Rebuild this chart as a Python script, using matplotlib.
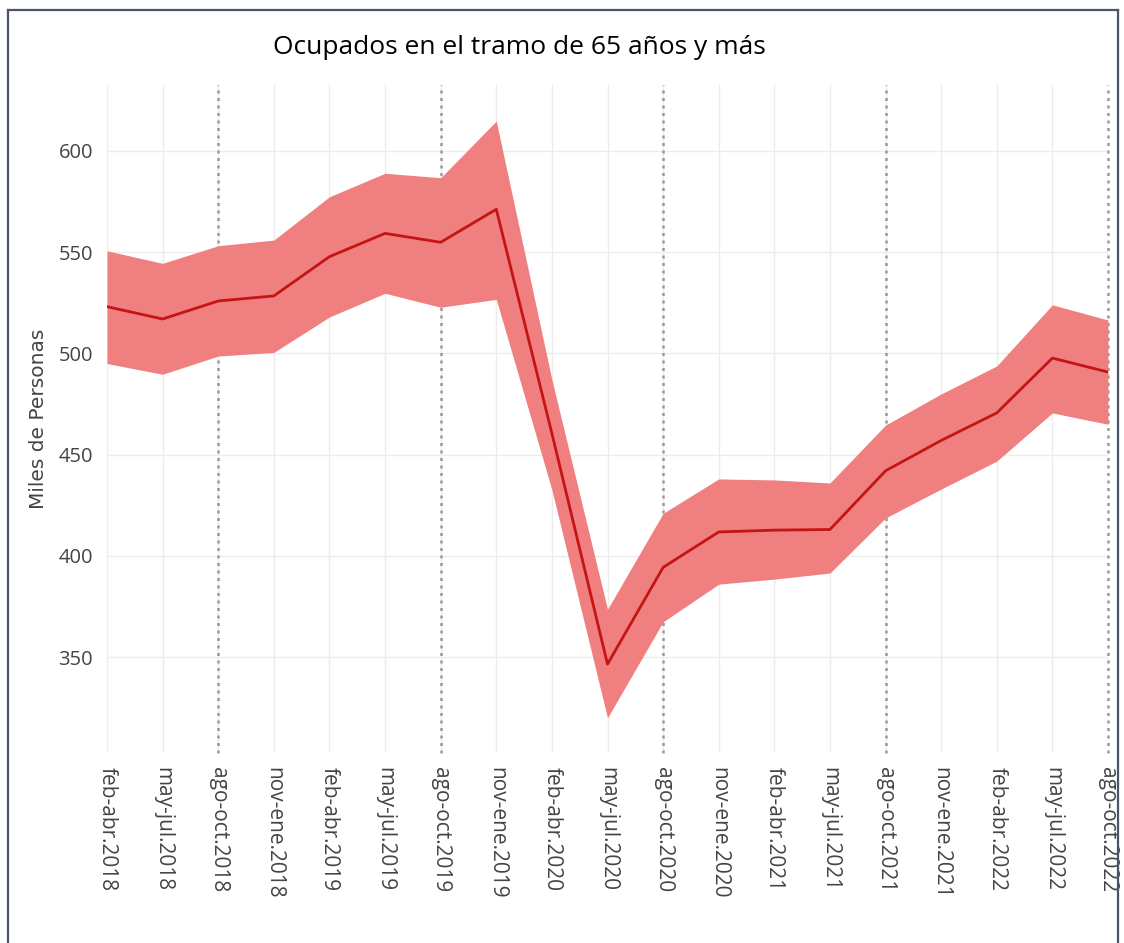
import matplotlib
matplotlib.use("Agg")
import matplotlib.pyplot as plt
from matplotlib.lines import Line2D

categories = ["feb-abr.2018", "may-jul.2018", "ago-oct.2018", "nov-ene.2018",
              "feb-abr.2019", "may-jul.2019", "ago-oct.2019", "nov-ene.2019",
              "feb-abr.2020", "may-jul.2020", "ago-oct.2020", "nov-ene.2020",
              "feb-abr.2021", "may-jul.2021", "ago-oct.2021", "nov-ene.2021",
              "feb-abr.2022", "may-jul.2022", "ago-oct.2022"]
ocupados = [523.1, 517.0, 525.9, 528.4, 547.8, 559.3, 554.9, 571.2, 460.5, 346.5,
            394.3, 411.8, 412.7, 413.0, 442.0, 457.0, 470.6, 497.7, 490.8]
superior = [550.7, 544.5, 553.2, 556.0, 577.4, 589.0, 586.8, 614.8, 487.0, 373.6,
            421.0, 438.0, 437.5, 436.0, 464.6, 480.0, 493.8, 524.0, 516.5]
inferior = [495.0, 489.7, 498.7, 500.5, 518.0, 529.7, 522.8, 526.7, 432.6, 320.0,
            367.4, 386.0, 388.5, 391.5, 418.7, 433.0, 446.8, 470.6, 465.0]
yticks = [350, 400, 450, 500, 550, 600]

plt.rcParams['font.family'] = ['Open Sans', 'DejaVu Sans']

fig = plt.figure(figsize=(11.24, 9.43), dpi=100)
ax = fig.add_axes([107/1124, 1-753/943, (1108-107)/1124, (753-85)/943])

x = list(range(len(categories)))
ax.fill_between(x, inferior, superior, color='#F08080', linewidth=0, zorder=2)
ax.plot(x, ocupados, color='#C41414', linewidth=2, zorder=3)

for i, c in enumerate(categories):
    if c.startswith("ago-oct"):
        ax.axvline(i, color='#9a9a9a', linestyle=(0, (1.2, 1.8)), linewidth=1.8,
                   zorder=1.5, clip_on=False)

ax.set_xlim(0, len(categories) - 1)
ax.set_ylim(302.6, 632.6)
ax.set_xticks(x)
ax.set_xticklabels(categories, rotation=-90, fontsize=15, color='#444444', va='top', ha='center')
ax.set_yticks(yticks)
ax.set_yticklabels([str(v) for v in yticks], fontsize=14.5, color='#444444')
ax.tick_params(axis='both', length=0, pad=10)
ax.grid(True, color='#ececec', linewidth=1, zorder=0)
ax.set_axisbelow(True)
for s in ax.spines.values():
    s.set_visible(False)
ax.set_ylabel("Miles de Personas", fontsize=14.5, color='#444444', family=['DejaVu Sans'])
ax.yaxis.set_label_coords((48 - 107) / (1108 - 107), 0.5)

fig.text(519/1124, 1-47/943, "Ocupados en el tramo de 65 años y más", ha='center', va='center',
         fontsize=19, color='black')

# figure border (top, left, right)
bc = '#4a5568'
fig.add_artist(Line2D([8/1124, 1118/1124], [1-9.5/943, 1-9.5/943], transform=fig.transFigure, color=bc, linewidth=1.6))
fig.add_artist(Line2D([8/1124, 8/1124], [0, 1-9.5/943], transform=fig.transFigure, color=bc, linewidth=1.6))
fig.add_artist(Line2D([1118/1124, 1118/1124], [0, 1-9.5/943], transform=fig.transFigure, color=bc, linewidth=1.6))

fig.savefig("out.png", dpi=100)
